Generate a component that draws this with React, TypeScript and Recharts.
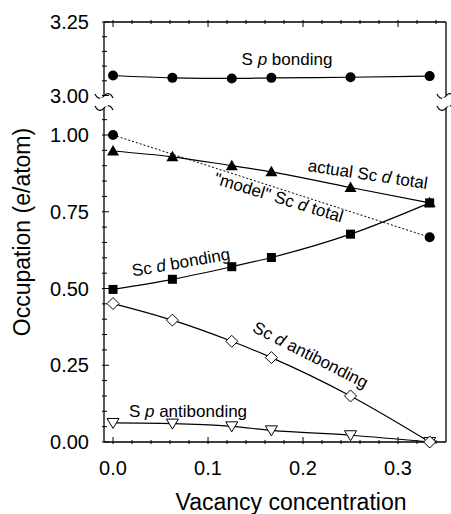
import { LineChart, Line, XAxis, YAxis } from 'recharts';

// vacancy concentration of each calculated structure
const vacancy = [0, 0.0625, 0.125, 0.1667, 0.25, 0.3333];

// occupations (e/atom)
const spBonding = [3.068, 3.06, 3.058, 3.06, 3.062, 3.066];
const actualScTotal = [0.948, 0.929, 0.9, 0.88, 0.829, 0.779];
const modelScTotal = [1.0, null, null, null, null, 0.667];
const scBonding = [0.497, 0.53, 0.571, 0.601, 0.677, 0.779];
const scAntibonding = [0.451, 0.397, 0.328, 0.275, 0.15, 0.0];
const spAntibonding = [0.062, 0.06, 0.051, 0.038, 0.022, 0.0];

const xTicks = [0, 0.02, 0.04, 0.06, 0.08, 0.1, 0.12, 0.14, 0.16, 0.18, 0.2, 0.22, 0.24, 0.26, 0.28, 0.3, 0.32, 0.34];
const xLabels = [0, 0.1, 0.2, 0.3];
const lowTicks = [0, 0.05, 0.1, 0.15, 0.2, 0.25, 0.3, 0.35, 0.4, 0.45, 0.5, 0.55, 0.6, 0.65, 0.7, 0.75, 0.8, 0.85, 0.9, 0.95, 1.0, 1.05];
const lowLabels = [0, 0.25, 0.5, 0.75, 1.0];
const highTicks = [3.0, 3.05, 3.1, 3.15, 3.2, 3.25];
const highLabels = [3.0, 3.25];

const rows = vacancy.map((x, i) => ({
  x,
  spBonding: spBonding[i],
  actual: actualScTotal[i],
  model: modelScTotal[i],
  scBonding: scBonding[i],
  scAnti: scAntibonding[i],
  spAnti: spAntibonding[i],
}));

const FONT = '"Liberation Sans", Arial, Helvetica, sans-serif';
const W = 451;
const H = 514;

const near = (list: number[], v: number) => list.some((l) => Math.abs(l - v) < 1e-6);

const makeXTick = (dir: number, showLabel: boolean) => (props: any) => {
  const { x, y, payload } = props;
  const major = near(xLabels, payload.value);
  const len = major ? 7 : 4;
  return (
    <g>
      <line x1={x} x2={x} y1={y} y2={y - dir * len} stroke="#000" strokeWidth={1} />
      {showLabel && major && (
        <text x={x} y={y + 24} textAnchor="middle" dy="0.35em" fontSize={20} fontFamily={FONT} fill="#000">
          {payload.value.toFixed(1)}
        </text>
      )}
    </g>
  );
};

const makeYTick = (labels: number[], dir: number, showLabel: boolean) => (props: any) => {
  const { x, y, payload } = props;
  const major = near(labels, payload.value);
  const len = major ? 7 : 5;
  return (
    <g>
      <line x1={x} x2={x + dir * len} y1={y} y2={y} stroke="#000" strokeWidth={1} />
      {showLabel && major && (
        <text x={x - 13} y={y} textAnchor="end" dy="0.35em" fontSize={20} fontFamily={FONT} fill="#000">
          {payload.value.toFixed(2)}
        </text>
      )}
    </g>
  );
};

const dotCircle = (p: any) =>
  p.cy == null ? <g key={`c${p.index}`} /> : <circle key={`c${p.index}`} cx={p.cx} cy={p.cy} r={5} fill="#000" />;
const dotTriangle = (p: any) => (
  <polygon key={`t${p.index}`} points={`${p.cx},${p.cy - 6} ${p.cx - 6},${p.cy + 4.5} ${p.cx + 6},${p.cy + 4.5}`} fill="#000" />
);
const dotSquare = (p: any) => <rect key={`s${p.index}`} x={p.cx - 4.5} y={p.cy - 4.5} width={9} height={9} fill="#000" />;
const dotDiamond = (p: any) => (
  <polygon
    key={`d${p.index}`}
    points={`${p.cx},${p.cy - 6} ${p.cx + 6},${p.cy} ${p.cx},${p.cy + 6} ${p.cx - 6},${p.cy}`}
    fill="#fff"
    stroke="#000"
    strokeWidth={1}
  />
);
const dotDown = (p: any) => (
  <polygon
    key={`v${p.index}`}
    points={`${p.cx - 6},${p.cy - 4.5} ${p.cx + 6},${p.cy - 4.5} ${p.cx},${p.cy + 5.5}`}
    fill="#fff"
    stroke="#000"
    strokeWidth={1}
  />
);

const tilde = (cx: number, cy: number) =>
  `M ${cx - 9} ${cy - 2} C ${cx - 6} ${cy + 4}, ${cx - 2} ${cy + 3}, ${cx} ${cy} C ${cx + 2} ${cy - 3}, ${cx + 6} ${cy - 4}, ${cx + 9} ${cy + 2}`;

const It = ({ children }: any) => <tspan fontStyle="italic">{children}</tspan>;

export default function App() {
  const xDomain = [-0.0095, 0.3505];
  const line = { isAnimationActive: false, stroke: '#000', strokeWidth: 1.2, yAxisId: 'l', activeDot: false } as any;

  return (
    <div style={{ position: 'absolute', left: 0, top: 0, width: W, height: H, background: '#fff' }}>
      {/* lower panel, 0 - 1.09 */}
      <div style={{ position: 'absolute', left: 0, top: 0 }}>
        <LineChart width={W} height={H} data={rows} margin={{ top: 108, right: 0, bottom: 0, left: 0 }}>
          <XAxis
            dataKey="x"
            type="number"
            domain={xDomain}
            ticks={xTicks}
            interval={0}
            height={72}
            tickSize={0}
            tickLine={false}
            axisLine={{ stroke: '#000', strokeWidth: 1.3 }}
            tick={makeXTick(1, true)}
          />
          <YAxis
            yAxisId="l"
            type="number"
            domain={[0, 1.088]}
            ticks={lowTicks}
            interval={0}
            width={104}
            tickSize={0}
            tickLine={false}
            axisLine={{ stroke: '#000', strokeWidth: 1.3 }}
            tick={makeYTick(lowLabels, 1, true)}
          />
          <YAxis
            yAxisId="r"
            orientation="right"
            type="number"
            domain={[0, 1.088]}
            ticks={lowTicks}
            interval={0}
            width={5}
            tickSize={0}
            tickLine={false}
            axisLine={{ stroke: '#000', strokeWidth: 1.3 }}
            tick={makeYTick(lowLabels, -1, false)}
          />
          <Line {...line} dataKey="model" type="linear" strokeDasharray="2 2" strokeWidth={1} connectNulls dot={dotCircle} />
          <Line {...line} dataKey="actual" type="monotone" dot={dotTriangle} />
          <Line {...line} dataKey="scBonding" type="monotone" dot={dotSquare} />
          <Line {...line} dataKey="spAnti" type="monotone" dot={dotDown} />
          <Line {...line} dataKey="scAnti" type="monotone" dot={dotDiamond} />
        </LineChart>
      </div>

      {/* upper panel, 3.00 - 3.25 */}
      <div style={{ position: 'absolute', left: 0, top: 0 }}>
        <LineChart width={W} height={H} data={rows} margin={{ top: 0, right: 0, bottom: H - 95.5, left: 0 }}>
          <XAxis
            dataKey="x"
            orientation="top"
            type="number"
            domain={xDomain}
            ticks={xTicks}
            interval={0}
            height={22}
            tickSize={0}
            tickLine={false}
            axisLine={{ stroke: '#000', strokeWidth: 1.3 }}
            tick={makeXTick(-1, false)}
          />
          <YAxis
            yAxisId="l"
            type="number"
            domain={[3.0, 3.25]}
            ticks={highTicks}
            interval={0}
            width={104}
            tickSize={0}
            tickLine={false}
            axisLine={{ stroke: '#000', strokeWidth: 1.3 }}
            tick={makeYTick(highLabels, 1, true)}
          />
          <YAxis
            yAxisId="r"
            orientation="right"
            type="number"
            domain={[3.0, 3.25]}
            ticks={highTicks}
            interval={0}
            width={5}
            tickSize={0}
            tickLine={false}
            axisLine={{ stroke: '#000', strokeWidth: 1.3 }}
            tick={makeYTick(highLabels, -1, false)}
          />
          <Line {...line} dataKey="spBonding" type="monotone" dot={dotCircle} />
        </LineChart>
      </div>

      {/* titles, axis breaks and curve annotations */}
      <svg width={W} height={H} style={{ position: 'absolute', left: 0, top: 0 }} fontFamily={FONT} fill="#000">
        <g fill="none" stroke="#000" strokeWidth={1.2}>
          <path d={tilde(104, 96)} />
          <path d={tilde(104, 108)} />
          <path d={tilde(446, 96)} />
          <path d={tilde(446, 108)} />
        </g>
        <rect x={100} y={97.5} width={8} height={9} fill="#fff" />
        <rect x={442} y={97.5} width={8} height={9} fill="#fff" />
        <text x={22} y={232} transform="rotate(-90 22 232)" textAnchor="middle" dy="0.35em" fontSize={23}>
          Occupation (e/atom)
        </text>
        <text x={291} y={502} textAnchor="middle" dy="0.35em" fontSize={23}>
          Vacancy concentration
        </text>
        <g fontSize={17}>
          <text x={287} y={65} textAnchor="middle">
            S <It>p</It> bonding
          </text>
          <text x={367} y={180} textAnchor="middle" transform="rotate(8.5 367 180)">
            actual Sc <It>d</It> total
          </text>
          <text x={277} y={203} textAnchor="middle" transform="rotate(17 277 203)">
            "model" Sc <It>d</It> total
          </text>
          <text x={182} y={268} textAnchor="middle" transform="rotate(-10 182 268)">
            Sc <It>d</It> bonding
          </text>
          <text x={308} y={360} textAnchor="middle" transform="rotate(27 308 360)">
            Sc <It>d</It> antibonding
          </text>
          <text x={188} y={417} textAnchor="middle">
            S <It>p</It> antibonding
          </text>
        </g>
      </svg>
    </div>
  );
}
